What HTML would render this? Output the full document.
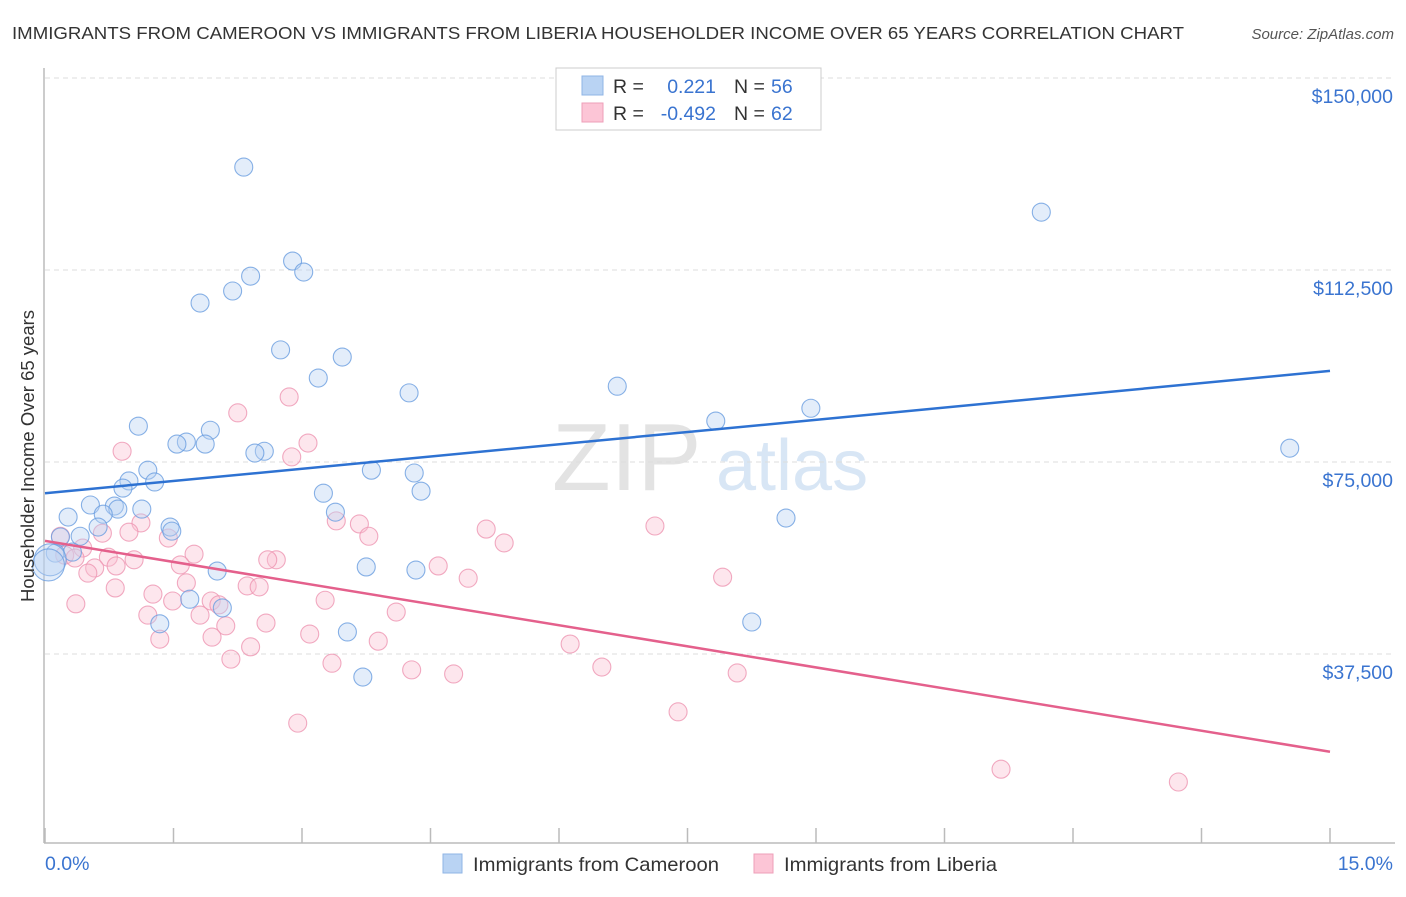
<!DOCTYPE html>
<html><head><meta charset="utf-8"><style>
body{margin:0;background:#fff;font-family:"Liberation Sans",sans-serif;}
svg text{font-family:"Liberation Sans",sans-serif;}
</style></head><body>
<svg id="chart" width="1406" height="892" xmlns="http://www.w3.org/2000/svg">
<text x="12" y="39" font-size="17.5" fill="#333" textLength="1172" lengthAdjust="spacingAndGlyphs">IMMIGRANTS FROM CAMEROON VS IMMIGRANTS FROM LIBERIA HOUSEHOLDER INCOME OVER 65 YEARS CORRELATION CHART</text>
<text x="1394" y="39" font-size="15" fill="#555" font-style="italic" text-anchor="end">Source: ZipAtlas.com</text>
<g><text x="552" y="490" font-size="96" fill="#ddd" font-family="Liberation Serif" opacity="0.8">ZIP</text><text x="716" y="490" font-size="72" fill="#cfe0f3" opacity="0.8">atlas</text></g>
<g id="grid"></g><g id="axes"></g><g id="marks"></g>
<g>
<rect x="556" y="68" width="265" height="62" fill="#fff" stroke="#ccc"/>
<rect x="582" y="76" width="21" height="19" fill="#b9d3f3" stroke="#8fb4e6"/>
<rect x="582" y="103" width="21" height="19" fill="#fcc5d6" stroke="#ee9fb8"/>
<text x="613" y="93" font-size="19.5" fill="#333">R =</text><text x="716" y="93" font-size="19.5" fill="#3a74d0" text-anchor="end">0.221</text>
<text x="734" y="93" font-size="19.5" fill="#333">N =</text><text x="771" y="93" font-size="19.5" fill="#3a74d0">56</text>
<text x="613" y="120" font-size="19.5" fill="#333">R =</text><text x="716" y="120" font-size="19.5" fill="#3a74d0" text-anchor="end">-0.492</text>
<text x="734" y="120" font-size="19.5" fill="#333">N =</text><text x="771" y="120" font-size="19.5" fill="#3a74d0">62</text>
</g>
<g>
<rect x="443" y="854" width="19" height="19" fill="#b9d3f3" stroke="#8fb4e6"/>
<text x="473" y="871" font-size="19.5" fill="#333" textLength="246" lengthAdjust="spacingAndGlyphs">Immigrants from Cameroon</text>
<rect x="754" y="854" width="19" height="19" fill="#fcc5d6" stroke="#ee9fb8"/>
<text x="784" y="871" font-size="19.5" fill="#333" textLength="213" lengthAdjust="spacingAndGlyphs">Immigrants from Liberia</text>
</g>
<text transform="translate(34,456) rotate(-90)" font-size="18.5" fill="#333" text-anchor="middle">Householder Income Over 65 years</text>
</svg>
<script>
const yTicks=[37500,75000,112500,150000];
const yTickLabels=["$37,500","$75,000","$112,500","$150,000"];
const xTickVals=[0,1.5,3,4.5,6,7.5,9,10.5,12,13.5,15];
const cameroonX=[2.32,11.63,2.89,3.02,2.40,2.19,1.81,2.75,3.47,3.19,4.25,6.68,7.83,8.94,1.09,1.93,1.65,1.54,1.87,2.56,2.45,14.53,1.20,3.81,4.31,0.98,1.28,0.91,4.39,3.25,0.53,0.81,0.85,1.13,3.39,0.27,0.68,8.65,0.62,1.46,1.48,0.41,0.18,0.32,0.12,0.06,0.04,3.75,4.33,2.01,1.69,2.07,1.34,3.53,8.25,3.71];
const cameroonY=[132600,123800,114250,112100,111300,108400,106050,96900,95500,91400,88500,89800,83000,85500,82000,81200,78900,78500,78500,77100,76750,77700,73400,73400,72850,71300,71100,69900,69300,68900,66600,66400,65800,65800,65200,64250,64800,64060,62300,62300,61500,60500,60350,57400,57200,55900,54900,54500,53900,53700,48200,46500,43400,41800,43750,33000];
const liberiaX=[2.85,2.25,0.90,3.07,2.88,1.12,3.40,3.67,1.44,5.15,7.12,0.98,3.78,5.36,0.67,0.18,0.44,0.74,1.04,1.74,2.70,2.60,1.58,0.83,0.58,0.50,4.59,4.94,7.91,1.65,2.36,2.50,0.82,1.26,1.49,3.27,1.94,2.03,4.10,0.36,1.20,1.81,2.11,2.58,1.34,1.95,3.09,3.89,2.40,2.17,3.35,6.13,6.50,4.28,4.77,8.08,2.95,7.39,11.16,13.23,0.23,0.35];
const liberiaY=[87700,84600,77100,78700,76000,63100,63500,62900,60150,61900,62500,61300,60500,59200,61100,60500,58200,56400,55900,57000,55900,55900,54900,54700,54300,53300,54700,52300,52500,51400,50800,50600,50400,49200,47850,48000,47850,47100,45700,47300,45100,45100,43000,43550,40400,40800,41400,40000,38900,36500,35700,39450,34950,34400,33600,33800,24000,26200,15000,12500,56800,56250];
const cameroonTrend=[68900,92800];
const liberiaTrend=[59600,18400];
const X0=45,X1=1330,YB=846,PX=192/37500;
const xs=v=>X0+(X1-X0)*v/15, ys=v=>YB-v*PX;
const NS="http://www.w3.org/2000/svg";
function mk(tag,attrs,parent){const e=document.createElementNS(NS,tag);for(const k in attrs)e.setAttribute(k,attrs[k]);document.getElementById(parent).appendChild(e);return e;}
yTicks.forEach((t,i)=>{
 const g=mk('line',{x1:45,x2:1395,y1:ys(t),y2:ys(t),stroke:'#ddd','stroke-dasharray':'5,4'},'grid');
 
 
 const l=mk('text',{x:1393,y:ys(t)+25,'font-size':19.5,fill:'#3a74d0','text-anchor':'end'},'axes');
 l.textContent=yTickLabels[i];
 
 
});
const ya=mk('line',{x1:44,x2:44,y1:68,y2:843,stroke:'#bbb','stroke-width':1.5},'axes');


const xa=mk('line',{x1:44,x2:1395,y1:843,y2:843,stroke:'#bbb','stroke-width':1.5},'axes');


xTickVals.forEach(v=>{const t=mk('line',{x1:xs(v),x2:xs(v),y1:828,y2:843,stroke:'#bbb','stroke-width':1.5},'axes');
 
 });
const xl0=mk('text',{x:45,y:870,'font-size':19.5,fill:'#3a74d0'},'axes');xl0.textContent='0.0%';


const xl1=mk('text',{x:1393,y:870,'font-size':19.5,fill:'#3a74d0','text-anchor':'end'},'axes');xl1.textContent='15.0%';


function pts(X,Y,fill,stroke,name){X.forEach((x,i)=>{const r=x<0.1?16:9;
 const c=mk('circle',{cx:xs(x),cy:ys(Y[i]),r:r,fill:fill,'fill-opacity':0.4,stroke:stroke,'stroke-opacity':0.8,'stroke-width':1.1},'marks');
 
 });}
pts(liberiaX,liberiaY,'#f9c0d2','#ee95b2','liberia-point');
pts(cameroonX,cameroonY,'#b9d3f3','#6a9ee0','cameroon-point');
const tl1=mk('line',{x1:xs(0),x2:xs(15),y1:ys(cameroonTrend[0]),y2:ys(cameroonTrend[1]),stroke:'#2e72d2','stroke-width':2.5},'marks');


const tl2=mk('line',{x1:xs(0),x2:xs(15),y1:ys(liberiaTrend[0]),y2:ys(liberiaTrend[1]),stroke:'#e4608c','stroke-width':2.5},'marks');


</script>
</body></html>
